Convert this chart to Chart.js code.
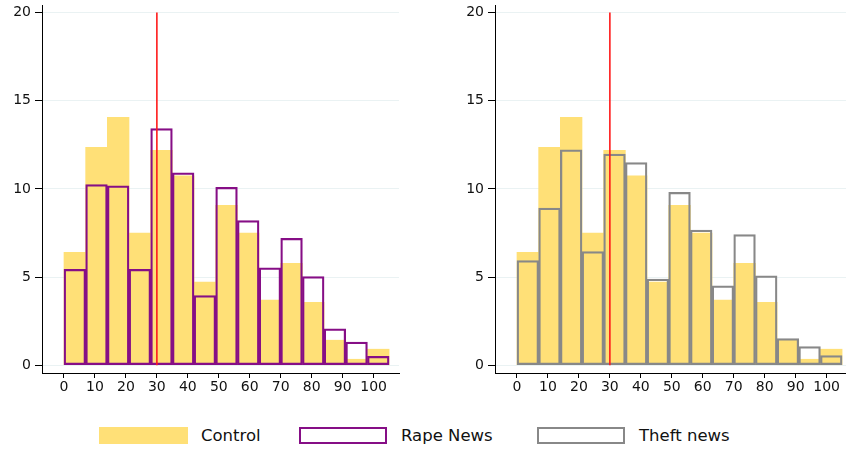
<!DOCTYPE html>
<html>
<head>
<meta charset="utf-8">
<script src="https://cdn.jsdelivr.net/npm/chart.js@4.4.0/dist/chart.umd.min.js"></script>
<style>
    body { margin: 0; width: 846px; height: 450px; overflow: hidden; background: #fff; position: relative; font-family: "DejaVu Sans", sans-serif; }
    canvas { position: absolute; top: 0; }
    #leftChart { left: 0; }
    #rightChart { left: 453px; }
    .box { position: absolute; top: 427px; height: 17px; box-sizing: border-box; }
    .txt { position: absolute; top: 427px; font-size: 16.5px; line-height: 18px; color: #111; white-space: nowrap; }
</style>
</head>
<body>
<canvas id="leftChart" width="423" height="400"></canvas>
<canvas id="rightChart" width="423" height="400"></canvas>

<div class="box" style="left:99px;width:89px;background:#FFE077;"></div>
<div class="txt" style="left:201px;">Control</div>
<div class="box" style="left:299px;width:88px;border:2px solid #860E86;"></div>
<div class="txt" style="left:401px;">Rape News</div>
<div class="box" style="left:537px;width:88px;border:2.5px solid #888888;"></div>
<div class="txt" style="left:639px;">Theft news</div>

<script>
// bins of width 7, centre of each bin
var binCenters = [3.5, 10.5, 17.5, 24.5, 31.5, 38.5, 45.5, 52.5, 59.5, 66.5, 73.5, 80.5, 87.5, 94.5, 101.5];
var controlPct = [6.41, 12.36, 14.06, 7.49, 12.19, 10.74, 4.71, 9.07, 7.49, 3.69, 5.78, 3.57, 1.42, 0.34, 0.91];
var rapePct    = [5.44, 10.25, 10.17, 5.44, 13.42, 10.91, 3.95, 10.09, 8.20, 5.52, 7.20, 5.03, 2.06, 1.32, 0.51];
var theftPct   = [5.94, 8.92, 12.21, 6.45, 11.97, 11.49, 4.88, 9.81, 7.67, 4.50, 7.41, 5.07, 1.51, 1.06, 0.55];
var cutoff = 30;
var xTicks = [0, 10, 20, 30, 40, 50, 60, 70, 80, 90, 100];
var yTicks = [0, 5, 10, 15, 20];

function toPoints(vals) {
    return binCenters.map(function (c, i) { return {x: c, y: vals[i]}; });
}

function makeChart(id, outlineVals, outlineColor, outlineLabel) {
    var ctx = document.getElementById(id).getContext('2d');
    return new Chart(ctx, {
        type: 'bar',
        data: {
            datasets: [
                {
                    type: 'line',
                    label: 'cutoff',
                    data: [{x: cutoff, y: yTicks[0]}, {x: cutoff, y: yTicks[yTicks.length - 1]}],
                    borderColor: '#FF1A1A',
                    borderWidth: 1.6,
                    pointRadius: 0,
                    order: 0
                },
                {
                    label: outlineLabel,
                    data: toPoints(outlineVals),
                    backgroundColor: 'rgba(0,0,0,0)',
                    borderColor: outlineColor,
                    borderWidth: 1.6,
                    borderSkipped: false,
                    grouped: false,
                    barPercentage: 1,
                    categoryPercentage: 1,
                    order: 1
                },
                {
                    label: 'Control',
                    data: toPoints(controlPct),
                    backgroundColor: '#FFE077',
                    borderWidth: 0,
                    grouped: false,
                    barPercentage: 1,
                    categoryPercentage: 1,
                    order: 2
                }
            ]
        },
        options: {
            responsive: false,
            animation: false,
            layout: { padding: { top: 5, right: 24, bottom: 0, left: 0 } },
            plugins: { legend: { display: false }, tooltip: { enabled: false } },
            scales: {
                x: {
                    type: 'linear',
                    min: -7.1,
                    max: 108.2,
                    offset: false,
                    afterBuildTicks: function (s) { s.ticks = xTicks.map(function (v) { return {value: v}; }); },
                    afterFit: function (s) { s.height = 27; s.paddingLeft = 0; s.paddingRight = 0; },
                    grid: { offset: false, drawOnChartArea: false, tickLength: 5, tickColor: '#000', tickWidth: 1 },
                    border: { display: true, color: '#000', width: 1 },
                    ticks: { color: '#111', padding: 1, maxRotation: 0, autoSkip: false, font: { family: 'DejaVu Sans', size: 14 } }
                },
                y: {
                    type: 'linear',
                    min: -0.44,
                    max: 20.43,
                    afterBuildTicks: function (s) { s.ticks = yTicks.map(function (v) { return {value: v}; }); },
                    afterFit: function (s) { s.width = 42; s.paddingTop = 0; s.paddingBottom = 0; },
                    grid: { color: '#EAF2F3', lineWidth: 1, tickLength: 7, tickColor: '#000', tickWidth: 1 },
                    border: { display: true, color: '#000', width: 1 },
                    ticks: { color: '#111', padding: 4, font: { family: 'DejaVu Sans', size: 14 } }
                }
            }
        }
    });
}

makeChart('leftChart', rapePct, '#860E86', 'Rape News');
makeChart('rightChart', theftPct, '#888888', 'Theft news');
</script>
</body>
</html>
